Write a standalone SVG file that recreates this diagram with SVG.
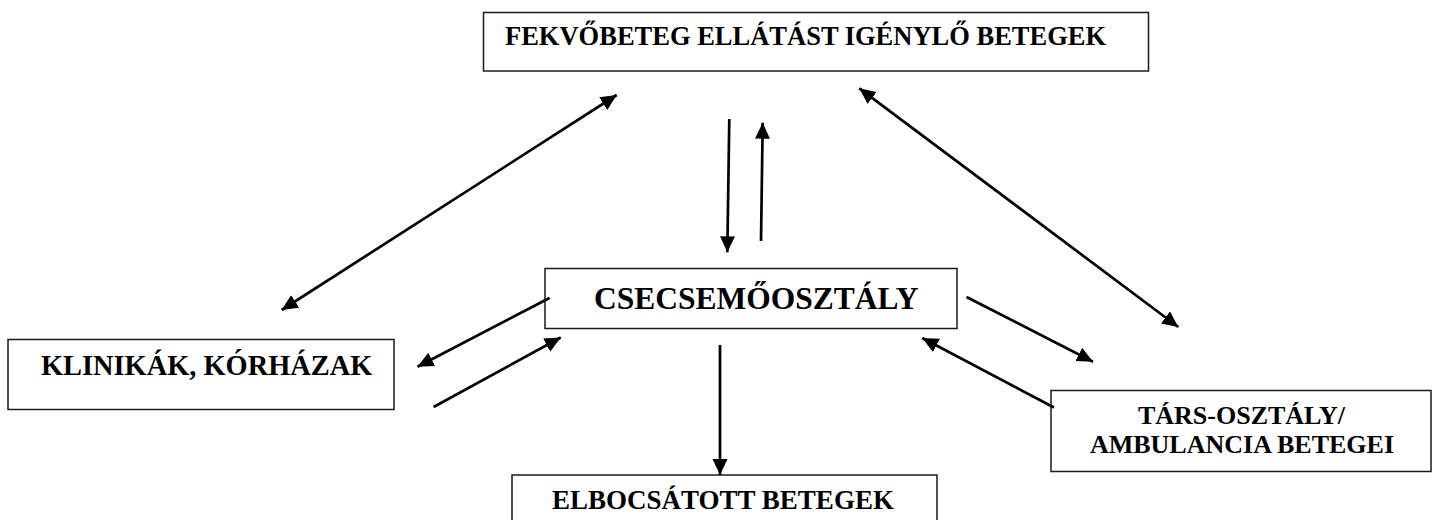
<svg xmlns="http://www.w3.org/2000/svg" width="1435" height="520" viewBox="0 0 1435 520">
<style>
.box{fill:#fff;stroke:#1a1a1a;stroke-width:1.5}
.t{font-family:"Liberation Serif","Times New Roman",serif;font-weight:bold;fill:#000}
.c{stroke:#000;stroke-width:2.7;fill:none;marker-end:url(#ah)}
.d{marker-start:url(#ah)}
</style>
<defs>
<marker id="ah" markerUnits="userSpaceOnUse" markerWidth="18" markerHeight="16" refX="16" refY="7.5" orient="auto-start-reverse" viewBox="0 0 18 16">
<path d="M0,0 L16,7.5 L0,15 z" fill="#000"/>
</marker>
</defs>
<rect width="1435" height="520" fill="#fff"/>
<g id="n-top">
<rect class="box" x="483.5" y="12.5" width="665" height="58.5"/>
<text class="t" x="505" y="45" font-size="26.5">FEKVŐBETEG ELLÁTÁST IGÉNYLŐ BETEGEK</text>
</g>
<g id="n-center">
<rect class="box" x="545" y="268.5" width="412" height="60"/>
<text class="t" x="594" y="309" font-size="31.5">CSECSEMŐOSZTÁLY</text>
</g>
<g id="n-left">
<rect class="box" x="8" y="339.5" width="386" height="70"/>
<text class="t" x="41" y="375" font-size="28.4">KLINIKÁK, KÓRHÁZAK</text>
</g>
<g id="n-right">
<rect class="box" x="1051" y="390.5" width="380" height="81"/>
<text class="t" x="1241.5" y="424" font-size="26" text-anchor="middle">TÁRS-OSZTÁLY/</text>
<text class="t" x="1242" y="453" font-size="26" text-anchor="middle">AMBULANCIA BETEGEI</text>
</g>
<g id="n-bottom">
<rect class="box" x="512" y="475" width="425" height="60"/>
<text class="t" x="552" y="509" font-size="27">ELBOCSÁTOTT BETEGEK</text>
</g>
<g id="connectors">
<line class="c d" x1="616.7" y1="95" x2="281.7" y2="310"/>
<line class="c d" x1="859.3" y1="88.3" x2="1178.3" y2="327"/>
<line class="c" x1="729.3" y1="119" x2="727.3" y2="252.3"/>
<line class="c" x1="761" y1="241" x2="762.7" y2="122.7"/>
<line class="c" x1="549.5" y1="298" x2="417.5" y2="366.7"/>
<line class="c" x1="433.6" y1="407" x2="560.7" y2="337.5"/>
<line class="c" x1="966.5" y1="297" x2="1093" y2="361.7"/>
<line class="c" x1="1054" y1="407.5" x2="922.3" y2="338"/>
<line class="c" x1="720" y1="345" x2="720" y2="475"/>
</g>
</svg>
